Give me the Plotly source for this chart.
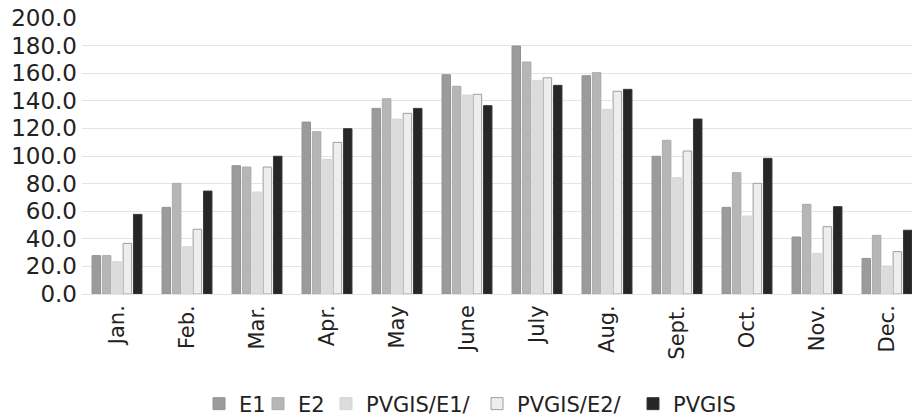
import plotly.graph_objects as go

months = ["Jan.", "Feb.", "Mar.", "Apr.", "May", "June", "July", "Aug.", "Sept.", "Oct.", "Nov.", "Dec."]
e1 = [27.8, 62.8, 93.0, 124.6, 134.5, 158.9, 179.7, 158.2, 99.8, 62.8, 41.3, 25.8]
e2 = [27.8, 80.2, 92.0, 117.6, 141.5, 150.5, 168.1, 160.4, 111.4, 87.9, 65.0, 42.5]
pvgis_e1 = [23.4, 34.3, 73.9, 97.6, 126.8, 144.2, 154.8, 133.8, 84.3, 56.5, 29.5, 20.3]
pvgis_e2 = [36.7, 46.9, 92.0, 109.9, 130.9, 144.7, 156.7, 146.9, 103.6, 80.2, 48.8, 30.7]
pvgis = [57.7, 74.6, 99.8, 119.8, 134.5, 136.5, 151.2, 148.3, 126.8, 98.3, 63.3, 46.2]
y_ticks = [0, 20, 40, 60, 80, 100, 120, 140, 160, 180, 200]

FONT = "DejaVu Sans, Arial, sans-serif"
L, W = 82, 830  # plot area left edge and width in px
T, H = 18, 276  # plot area top edge and height in px

series = [
    ("E1", e1, "#9b9b9b", "#939393", 239),
    ("E2", e2, "#b6b6b6", "#ababab", 298),
    ("PVGIS/E1/", pvgis_e1, "#dcdcdc", "#d4d4d4", 366),
    ("PVGIS/E2/", pvgis_e2, "#eeeeee", "#9e9e9e", 517),
    ("PVGIS", pvgis, "#262626", "#3a3a3a", 673),
]

fig = go.Figure()
legend_layout = {}
for i, (name, vals, col, lc, text_px) in enumerate(series):
    lname = "legend" if i == 0 else f"legend{i + 1}"
    fig.add_trace(go.Bar(
        x=list(range(len(months))), y=vals, name=name, legend=lname,
        marker=dict(color=col, line=dict(color=lc, width=1)),
    ))
    legend_layout[lname] = dict(
        x=(text_px - 40 - L) / W, xanchor="left",
        y=-(404 - (T + H)) / H, yanchor="middle",
        orientation="h", bgcolor="rgba(0,0,0,0)", borderwidth=0,
        font=dict(size=21, color="#222222", family=FONT),
    )

fig.update_layout(
    width=912, height=419,
    margin=dict(l=L, r=912 - L - W, t=T, b=419 - T - H, autoexpand=False),
    paper_bgcolor="white", plot_bgcolor="white",
    barmode="group", bargap=0.26, bargroupgap=0.18,
    font=dict(family=FONT, color="#222222"),
    showlegend=True,
    **legend_layout,
)
fig.update_xaxes(
    range=[-0.5, -0.5 + W / 70],
    tickmode="array", tickvals=list(range(len(months))), ticktext=months,
    tickangle=-90, tickfont=dict(size=21), showgrid=False, showline=False,
    ticks="", zeroline=False, automargin=False, ticklabelstandoff=6,
)
fig.update_yaxes(
    range=[0, 200], tickmode="array", tickvals=y_ticks,
    ticktext=[f"{v:.1f}" for v in y_ticks],
    tickfont=dict(size=23), showgrid=True, gridcolor="#e4e4e4", gridwidth=1,
    zeroline=True, zerolinecolor="#e4e4e4", zerolinewidth=1,
    showline=False, ticks="", ticklabelstandoff=4, automargin=False,
)

fig.write_html(
    "out.html",
    config={"displayModeBar": False},
    post_script="document.body.style.margin='0';document.body.style.overflow='hidden';",
)
